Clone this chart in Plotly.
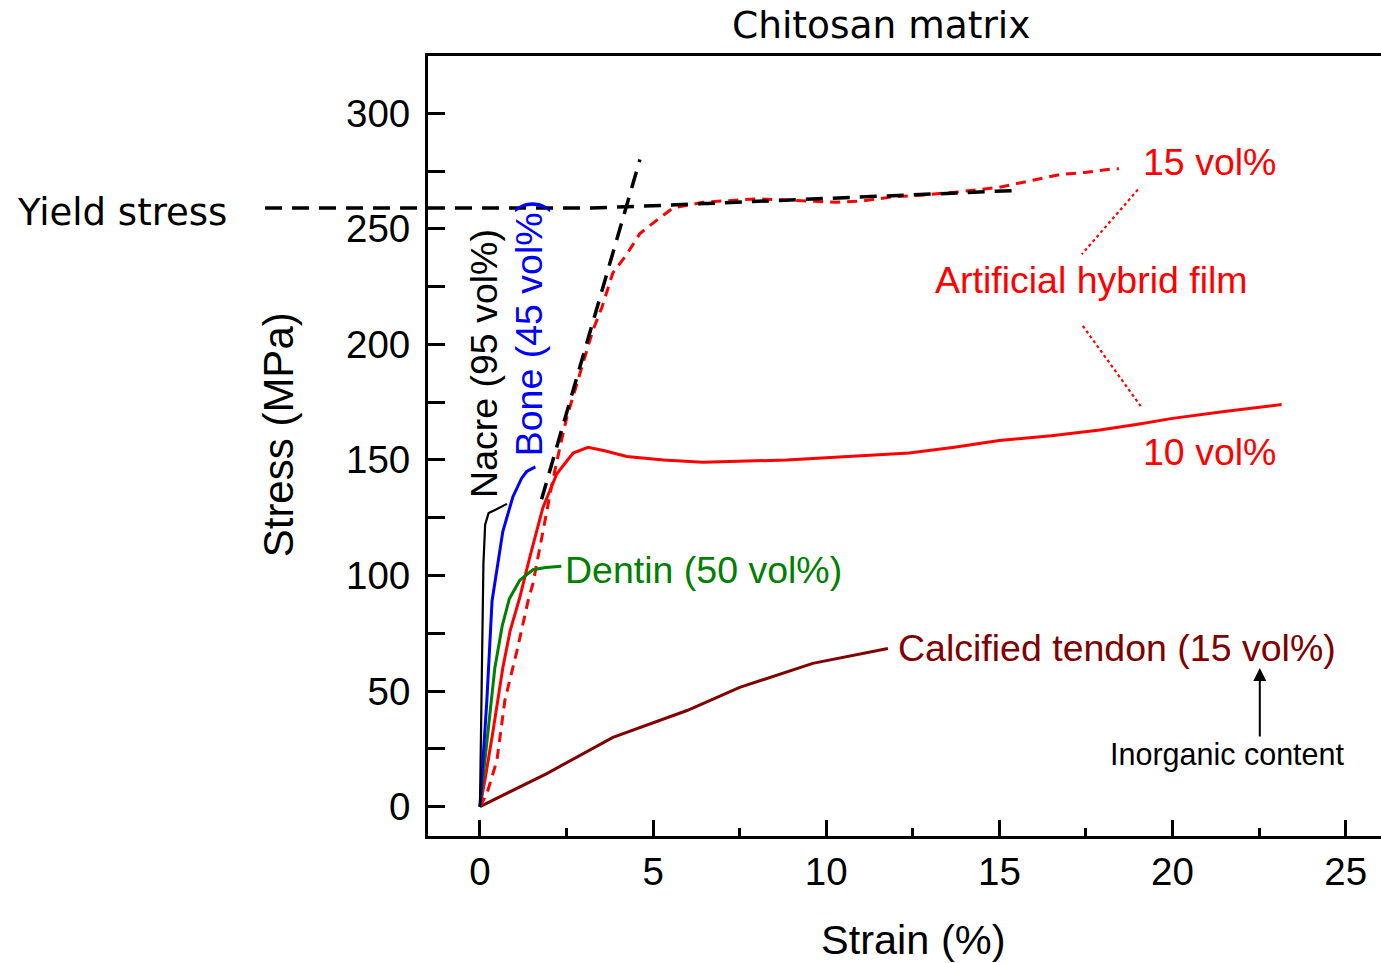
import plotly.graph_objects as go

# Stress-strain curves (strain in %, stress in MPa)
nacre_strain = [0, 0.05, 0.1, 0.15, 0.25, 0.45, 0.78]
nacre_stress = [0, 60, 105, 122, 127, 128.5, 131]

bone_strain = [0, 0.2, 0.35, 0.52, 0.66, 0.95, 1.2, 1.35, 1.5, 1.6]
bone_stress = [0, 46, 89, 105, 119, 134, 142, 145, 146, 147]

dentin_strain = [0, 0.24, 0.43, 0.64, 0.85, 1.15, 1.53, 1.9, 2.35]
dentin_stress = [0, 32, 60, 78, 90, 98, 102.5, 103.5, 104]

tendon_strain = [0, 1.93, 3.84, 5.98, 7.5, 9.61, 11.78]
tendon_stress = [0, 14.3, 30, 41.6, 51.6, 62, 68.4]

film10_strain = [0, 0.15, 0.37, 0.66, 0.87, 1.15, 1.44, 1.82, 2.22, 2.69, 3.12, 3.6,
                 4.24, 5.3, 6.44, 7.5, 8.86, 10, 11.2, 12.4, 13.7, 15, 16.5, 17.9,
                 19, 20, 21.5, 23.15]
film10_stress = [0, 12, 32, 60, 76, 90.5, 108, 129.5, 144, 153, 155.5, 154,
                 151.5, 150, 149, 149.5, 150, 151, 152, 153, 155.5, 158.4, 160.5, 163,
                 165.5, 168, 171, 174]

film15_strain = [0, 0.2, 0.49, 0.72, 1.07, 1.39, 1.53, 1.73, 1.93, 2.1, 2.31, 2.51,
                 2.8, 3.09, 3.26, 3.52, 3.84, 4.24, 4.62, 5.1, 5.57, 6.44, 7.3, 8.0,
                 8.8, 9.6, 10.3, 11.0, 12.0, 12.7, 13.8, 15.0, 15.96, 16.74, 17.52,
                 18.27, 18.45]
film15_stress = [0, 5.6, 20, 46, 67.5, 89, 96.5, 112, 127, 141, 155.5, 168.5,
                 183, 197.5, 206, 216, 231, 239, 248, 253.7, 259, 261.5, 262.5, 263,
                 262.5, 262, 261.5, 262, 264, 264.5, 266, 268, 271, 273.5, 274.5,
                 276, 276]

# Construction lines: yield plateau and elastic slope
yield_strain = [-1.5, 3.2, 5.0, 10, 15.6]
yield_stress = [259, 259, 260, 263, 266.7]
slope_strain = [1.78, 4.62]
slope_stress = [133, 280]
yield_level = 259

BLACK = "#000000"
RED = "#ff0000"
BLUE = "#0000ff"
GREEN = "#008000"
MAROON = "#800000"
ARIAL = "Liberation Sans, Arial, sans-serif"
GEOM = "DejaVu Sans, sans-serif"

fig = go.Figure()


def curve(x, y, color, width=3, dash="solid"):
    fig.add_trace(go.Scatter(x=x, y=y, mode="lines",
                             line=dict(color=color, width=width, dash=dash),
                             showlegend=False, hoverinfo="skip"))


curve(tendon_strain, tendon_stress, MAROON)
curve(film15_strain, film15_stress, RED, 3, "10px,7px")
curve(film10_strain, film10_stress, RED)
curve(dentin_strain, dentin_stress, GREEN)
curve(bone_strain, bone_stress, BLUE)
curve(nacre_strain, nacre_stress, BLACK, 2.2)
curve(yield_strain, yield_stress, BLACK, 3.5, "17px,10px")
curve(slope_strain, slope_stress, BLACK, 3.5, "17px,10px")

# Yield line extension into the left margin
fig.add_shape(type="line", xref="paper", yref="y", x0=-0.171, x1=0.0,
              y0=yield_level, y1=yield_level,
              line=dict(color=BLACK, width=3.5, dash="17px,10px"))

# Dotted leaders from the film label to the two curves
fig.add_shape(type="line", xref="x", yref="y", x0=19.0, y0=267, x1=17.38, y1=239,
              line=dict(color=RED, width=2.2, dash="dot"))
fig.add_shape(type="line", xref="x", yref="y", x0=17.41, y0=208, x1=19.11, y1=172.7,
              line=dict(color=RED, width=2.2, dash="dot"))


def label(text, x, y, color, size=37.5, xanchor="left", angle=0, family=ARIAL,
          xref="x", yref="y"):
    fig.add_annotation(text=text, x=x, y=y, xref=xref, yref=yref, showarrow=False,
                       xanchor=xanchor, yanchor="middle", textangle=angle,
                       font=dict(family=family, size=size, color=color))


label("Nacre (95 vol%)", 0.12, 191.6, BLACK, xanchor="center", angle=-90)
label("Bone (45 vol%)", 1.44, 206.9, BLUE, xanchor="center", angle=-90)
label("Dentin (50 vol%)", 2.4, 102.4, GREEN)
label("Calcified tendon (15 vol%)", 12.0, 68.7, MAROON)
label("15 vol%", 19.08, 279, RED)
label("Artificial hybrid film", 13.08, 228, RED)
label("10 vol%", 19.08, 153.6, RED)
label("Inorganic content", 18.14, 22.4, BLACK, size=30.5)
label("Yield stress", -0.433, 256.9, BLACK, size=37, family=GEOM, xref="paper")
label("Chitosan matrix", 0.475, 1.04, BLACK, size=37.5, xanchor="center",
      family=GEOM, xref="paper", yref="paper")

# Axis titles
label("Strain (%)", 0.509, -0.133, BLACK, size=41.5, xanchor="center",
      xref="paper", yref="paper")
label("Stress (MPa)", -0.1574, 0.515, BLACK, size=42, xanchor="center", angle=-90,
      xref="paper", yref="paper")

fig.add_annotation(x=22.52, y=60.0, ax=22.52, ay=29.7, xref="x", yref="y",
                   axref="x", ayref="y", showarrow=True, arrowhead=2,
                   arrowsize=1.3, arrowwidth=2, arrowcolor=BLACK, text="")

fig.update_layout(
    width=1381, height=963,
    margin=dict(l=428, r=0, t=56, b=127),
    paper_bgcolor="white", plot_bgcolor="white",
    xaxis=dict(
        range=[-1.5, 26.02], tickvals=[0, 5, 10, 15, 20, 25],
        showgrid=False, zeroline=False,
        showline=True, linecolor=BLACK, linewidth=3, mirror=True,
        ticks="inside", ticklen=16, tickwidth=3, tickcolor=BLACK,
        minor=dict(dtick=2.5, tick0=0, ticks="inside", ticklen=8, tickwidth=3,
                   tickcolor=BLACK, showgrid=False),
        tickfont=dict(family=ARIAL, size=38.5, color=BLACK),
    ),
    yaxis=dict(
        range=[-12.7, 324.8], tickvals=[0, 50, 100, 150, 200, 250, 300],
        showgrid=False, zeroline=False,
        showline=True, linecolor=BLACK, linewidth=3,
        ticks="inside", ticklen=17, tickwidth=3, tickcolor=BLACK,
        minor=dict(dtick=25, tick0=0, ticks="inside", ticklen=17, tickwidth=3,
                   tickcolor=BLACK, showgrid=False),
        tickfont=dict(family=ARIAL, size=38.5, color=BLACK),
        ticklabelstandoff=7,
    ),
)

fig.write_html("out.html")
